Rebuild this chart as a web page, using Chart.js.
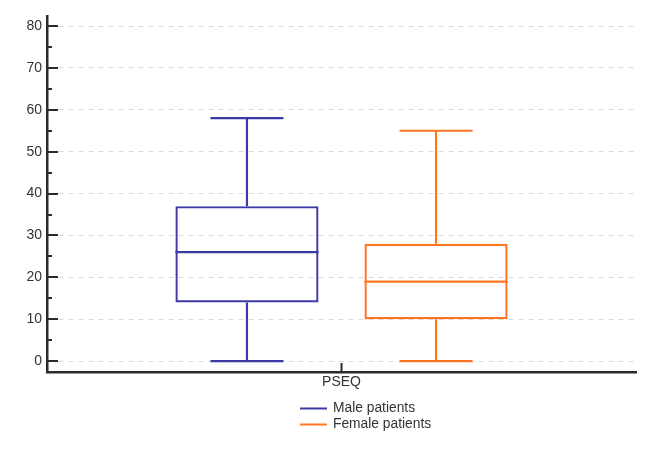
<!DOCTYPE html>
<html><head><meta charset="utf-8">
<script src="https://cdn.jsdelivr.net/npm/chart.js@4"></script>
<style>html,body{margin:0;padding:0;background:#fff}canvas{display:block}</style>
</head><body>
<canvas id="c" width="649" height="465"></canvas>
<script>
// ---- data ----
const categories = ['PSEQ'];
const seriesLabels = ['Male patients', 'Female patients'];
// [min, q1, median, q3, max]
const maleStats = [0, 14, 26, 37, 58];
const femaleStats = [0, 10, 19, 28, 55];
const yMajorTicks = [0, 10, 20, 30, 40, 50, 60, 70, 80];
const yMinorTicks = [5, 15, 25, 35, 45, 55, 65, 75];
const seriesColors = ['#3d3aa6', '#ff7420'];

const FONT = '"Liberation Sans", Arial, sans-serif';
const AXIS = '#2b2b2b';
const TEXT = '#333333';

const allStats = [maleStats, femaleStats];

const boxPlugin = {
  id: 'boxExtras',
  afterDatasetsDraw(chart) {
    const ctx = chart.ctx, ys = chart.scales.y;
    const py = v => ys.getPixelForValue(v);
    chart.data.datasets.forEach((ds, i) => {
      const st = ds.stats;
      chart.getDatasetMeta(i).data.forEach(bar => {
        const {x, width} = bar.getProps(['x', 'width'], true);
        const cap = width * 0.51;
        ctx.save();
        ctx.strokeStyle = ds.borderColor;
        ctx.lineWidth = 2.2;
        ctx.beginPath();
        ctx.moveTo(x, py(st[3])); ctx.lineTo(x, py(st[4]));
        ctx.moveTo(x, py(st[1])); ctx.lineTo(x, py(st[0]));
        ctx.moveTo(x - cap / 2, py(st[4])); ctx.lineTo(x + cap / 2, py(st[4]));
        ctx.moveTo(x - cap / 2, py(st[0])); ctx.lineTo(x + cap / 2, py(st[0]));
        ctx.moveTo(x - width / 2, py(st[2])); ctx.lineTo(x + width / 2, py(st[2]));
        ctx.stroke();
        ctx.restore();
      });
    });
  },
  afterDraw(chart) {
    const ctx = chart.ctx, ys = chart.scales.y, xs = chart.scales.x;
    const a = chart.chartArea;
    ctx.save();
    ctx.strokeStyle = AXIS;
    ctx.lineWidth = 2;
    ctx.beginPath();
    yMajorTicks.forEach(v => { const p = Math.round(ys.getPixelForValue(v)); ctx.moveTo(a.left, p); ctx.lineTo(a.left + 11, p); });
    yMinorTicks.forEach(v => { const p = Math.round(ys.getPixelForValue(v)); ctx.moveTo(a.left, p); ctx.lineTo(a.left + 5, p); });
    categories.forEach((c, i) => { const p = xs.getPixelForValue(i); ctx.moveTo(p, a.bottom); ctx.lineTo(p, a.bottom - 9); });
    ctx.stroke();
    // legend
    ctx.font = '13.8px ' + FONT;
    ctx.textBaseline = 'middle';
    ctx.textAlign = 'left';
    const lx = 300, ly = 408.5;
    chart.data.datasets.forEach((ds, i) => {
      const y = ly + i * 16;
      ctx.strokeStyle = ds.borderColor;
      ctx.lineWidth = 2;
      ctx.beginPath(); ctx.moveTo(lx, y); ctx.lineTo(lx + 27, y); ctx.stroke();
      ctx.fillStyle = TEXT;
      ctx.fillText(ds.label, lx + 33, y);
    });
    ctx.restore();
  }
};

new Chart(document.getElementById('c'), {
  type: 'bar',
  data: {
    labels: categories,
    datasets: allStats.map((st, i) => ({
      label: seriesLabels[i],
      data: [[st[1], st[3]]],
      stats: st,
      backgroundColor: 'rgba(0,0,0,0)',
      borderColor: seriesColors[i],
      borderWidth: 2.2,
      borderSkipped: false,
      categoryPercentage: 0.642,
      barPercentage: 0.757
    }))
  },
  options: {
    responsive: false,
    animation: false,
    devicePixelRatio: 1,
    layout: { padding: { left: 0, top: 16, right: 13, bottom: 63 } },
    plugins: { legend: { display: false }, tooltip: { enabled: false } },
    scales: {
      x: {
        type: 'category',
        offset: true,
        grid: { display: false, drawTicks: false },
        border: { display: true, color: AXIS, width: 2.5 },
        ticks: { color: TEXT, font: { family: FONT, size: 14 }, padding: 2 },
        afterFit(s) { s.height = 30; }
      },
      y: {
        min: -2.6,
        max: 82.4,
        afterBuildTicks(s) { s.ticks = yMajorTicks.map(v => ({ value: v })); },
        grid: { color: '#dadada', lineWidth: 1, drawTicks: false },
        border: { display: true, color: AXIS, width: 2.5, dash: [5, 5] },
        ticks: { color: TEXT, font: { family: FONT, size: 14 }, padding: 5 },
        afterFit(s) { s.width = 47; }
      }
    }
  },
  plugins: [boxPlugin]
});
</script>
</body></html>
